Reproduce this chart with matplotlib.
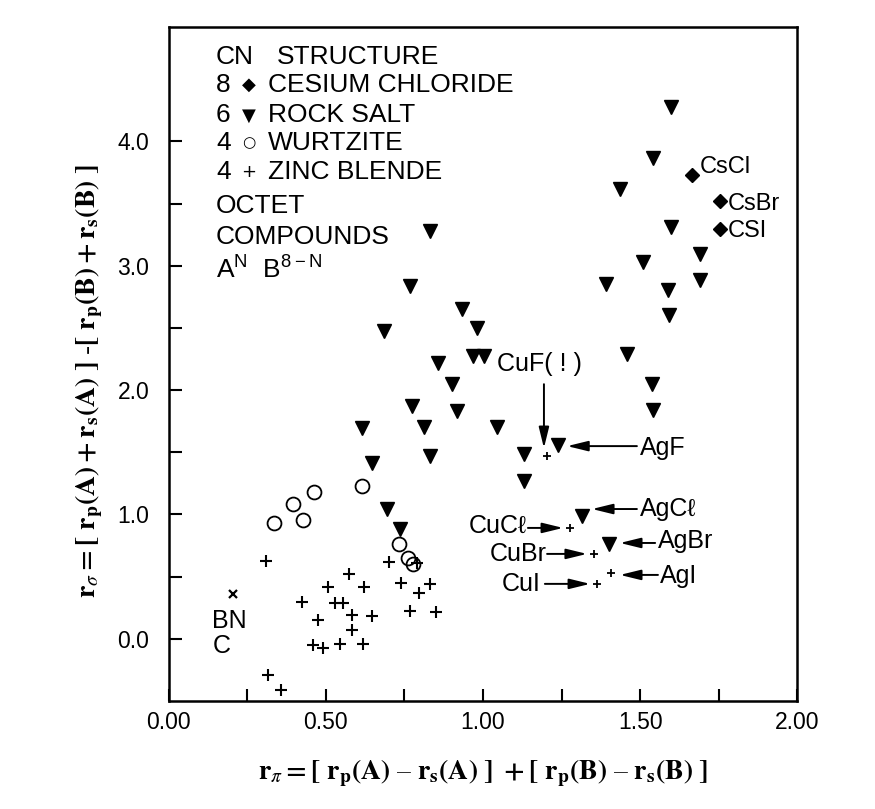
import matplotlib
matplotlib.use("Agg")
import matplotlib.pyplot as plt
from matplotlib.ticker import MultipleLocator, FixedLocator, FormatStrFormatter

plt.rcParams['font.family'] = ['Liberation Sans', 'DejaVu Sans']
plt.rcParams['mathtext.fontset'] = 'custom'
plt.rcParams['mathtext.rm'] = 'Liberation Sans'

# ---------- data ----------
# CN 6, rock salt
rs_x = [1.599, 1.541, 1.436, 1.599, 1.510, 1.392, 1.589, 1.691, 1.691, 1.592,
        1.459, 1.538, 1.541,
        0.831, 0.768, 0.685, 0.933, 0.981, 0.857, 0.968, 1.003, 0.901, 0.774,
        0.917, 0.812, 1.045, 0.615, 0.831, 0.646, 1.131, 1.131, 1.239, 1.315,
        1.401, 0.694, 0.736]
rs_y = [4.281, 3.871, 3.614, 3.309, 3.028, 2.851, 2.803, 3.092, 2.884, 2.602,
        2.289, 2.048, 1.839,
        3.277, 2.835, 2.474, 2.651, 2.498, 2.217, 2.273, 2.273, 2.048, 1.871,
        1.831, 1.703, 1.703, 1.695, 1.470, 1.414, 1.486, 1.269, 1.558, 0.988,
        0.763, 1.044, 0.884]

# CN 8, cesium chloride
cs_x = [1.666, 1.755, 1.755]
cs_y = [3.727, 3.518, 3.293]
cs_names = ['CsCl', 'CsBr', 'CSI']

# CN 4, wurtzite
wz_x = [0.334, 0.395, 0.427, 0.462, 0.615, 0.732, 0.761, 0.777]
wz_y = [0.932, 1.084, 0.956, 1.181, 1.229, 0.763, 0.651, 0.602]

# CN 4, zinc blende
zb_x = [0.309, 0.701, 0.790, 0.573, 0.506, 0.621, 0.739, 0.831, 0.796, 0.424,
        0.529, 0.554, 0.583, 0.646, 0.475, 0.768, 0.850, 0.583, 0.459, 0.490,
        0.545, 0.618, 0.315, 0.357]
zb_y = [0.627, 0.618, 0.610, 0.522, 0.418, 0.418, 0.450, 0.442, 0.369, 0.297,
        0.289, 0.289, 0.193, 0.185, 0.153, 0.225, 0.217, 0.072, -0.048, -0.072,
        -0.040, -0.040, -0.289, -0.410]

# labelled copper / silver zinc blende compounds (small crosses)
cu_names = ['CuF', 'CuC\u2113', 'CuBr', 'CuI', 'AgI']
cu_x = [1.204, 1.277, 1.354, 1.363, 1.408]
cu_y = [1.470, 0.892, 0.683, 0.442, 0.530]

# BN / C
bn_x = [0.204]
bn_y = [0.361]

fig = plt.figure(figsize=(8.75, 8.09), dpi=100)
ax = fig.add_axes([0.193, 0.1335, 0.718, 0.833])

ax.plot(rs_x, rs_y, 'v', color='k', ms=10, ls='none')
ax.plot(cs_x, cs_y, 'D', color='k', ms=7, ls='none')
ax.plot(wz_x, wz_y, 'o', mfc='none', mec='k', mew=1.3, ms=10, ls='none')
ax.plot(zb_x, zb_y, '+', color='k', ms=9, mew=1.5, ls='none')
ax.plot(cu_x, cu_y, '+', color='k', ms=6, mew=1.3, ls='none')
ax.plot(bn_x, bn_y, 'x', color='k', ms=6, mew=1.6, ls='none')

ax.set_xlim(0, 2.0)
ax.set_ylim(-0.5, 4.92)

ax.xaxis.set_major_locator(MultipleLocator(0.5))
ax.xaxis.set_minor_locator(MultipleLocator(0.25))
ax.yaxis.set_major_locator(FixedLocator([0.0, 1.0, 2.0, 3.0, 4.0]))
ax.yaxis.set_minor_locator(FixedLocator([0.5, 1.5, 2.5, 3.5]))
ax.xaxis.set_major_formatter(FormatStrFormatter('%.2f'))
ax.yaxis.set_major_formatter(FormatStrFormatter('%.1f'))
ax.tick_params(which='both', direction='in', length=9, width=1.5,
               top=False, right=False)
ax.tick_params(axis='x', which='major', labelsize=16.5, pad=7)
ax.tick_params(axis='y', which='major', labelsize=16.5, pad=14)
for s in ax.spines.values():
    s.set_linewidth(1.8)

dash = '\u2013'
ax.set_xlabel(r'$\mathbf{r}_{\pi}\mathbf{=[\ r_p(A)\ \text{' + dash + r'}\ r_s(A)\ ]\ +[\ r_p(B)\ \text{'
              + dash + r'}\ r_s(B)\ ]}$',
              fontsize=20, math_fontfamily='stix')
ax.set_ylabel(r'$\mathbf{r}_{\sigma}\mathbf{=[\ r_p(A) + r_s(A)\ ]\ \text{-}[\ r_p(B) + r_s(B)\ ]}$',
              fontsize=20, math_fontfamily='stix')
ax.xaxis.set_label_coords(0.5, -0.083)
ax.yaxis.set_label_coords(-0.102, 0.475)

# key in upper left
fs = 19
tr = ax.transAxes
ax.text(0.075, 0.955, 'CN', transform=tr, fontsize=fs, va='center')
ax.text(0.172, 0.955, 'STRUCTURE', transform=tr, fontsize=fs, va='center')
rows = [('8', '\u25c6', 'CESIUM CHLORIDE', 0.914, 13),
        ('6', '\u25bc', 'ROCK SALT', 0.869, 13),
        ('4', '\u25cb', 'WURTZITE', 0.828, 11),
        ('4', '+', 'ZINC BLENDE', 0.785, 13)]
for num, sym, lab, yy, ss in rows:
    ax.text(0.075, yy, num, transform=tr, fontsize=fs, va='center')
    ax.text(0.127, yy, sym, transform=tr, fontsize=ss, va='center', ha='center',
            family=['DejaVu Sans'])
    ax.text(0.158, yy, lab, transform=tr, fontsize=fs, va='center')
ax.text(0.075, 0.734, 'OCTET', transform=tr, fontsize=fs, va='center')
ax.text(0.075, 0.688, 'COMPOUNDS', transform=tr, fontsize=fs, va='center')
ax.text(0.075, 0.642, r'A$^{\mathrm{N}}$  B$^{\mathrm{8-N}}$', transform=tr,
        fontsize=fs, va='center')

# cesium labels
for n, tx, ty in zip(cs_names, [1.691, 1.780, 1.780], [3.791, 3.494, 3.277]):
    ax.text(tx, ty, n, fontsize=17, va='center', ha='left')

ax.text(0.191, 0.145, 'BN', fontsize=18, ha='center', va='center')
ax.text(0.169, -0.056, 'C', fontsize=18, ha='center', va='center')

arr = dict(arrowstyle='-|>,head_length=0.9,head_width=0.22', color='k', lw=1.4,
           shrinkA=0, shrinkB=0, mutation_scale=14)

# CuF(!)
ax.text(1.045, 2.209, 'CuF( ! )', fontsize=18, va='center', ha='left')
ax.annotate('', xy=(1.194, 1.534), xytext=(1.194, 2.048), arrowprops=arr)

# silver labels on the right, arrows pointing left
ag = [('AgF', 1.500, 1.534, 1.490, 1.268, 1.550),
      ('AgC\u2113', 1.500, 1.044, 1.490, 1.347, 1.044),
      ('AgBr', 1.557, 0.787, 1.548, 1.436, 0.771),
      ('AgI', 1.564, 0.506, 1.557, 1.436, 0.514)]
for n, tx, ty, x0, x1, ya in ag:
    ax.text(tx, ty, n, fontsize=18, va='center', ha='left')
    ax.annotate('', xy=(x1, ya), xytext=(x0, ya), arrowprops=arr)

# copper labels on the left, arrows pointing right
cu = [('CuC\u2113', 1.140, 0.908, 1.143, 1.255, 0.892),
      ('CuBr', 1.204, 0.683, 1.204, 1.331, 0.683),
      ('CuI', 1.182, 0.442, 1.197, 1.341, 0.442)]
for n, tx, ty, x0, x1, ya in cu:
    ax.text(tx, ty, n, fontsize=18, va='center', ha='right')
    ax.annotate('', xy=(x1, ya), xytext=(x0, ya), arrowprops=arr)

fig.savefig('out.png', dpi=100)
